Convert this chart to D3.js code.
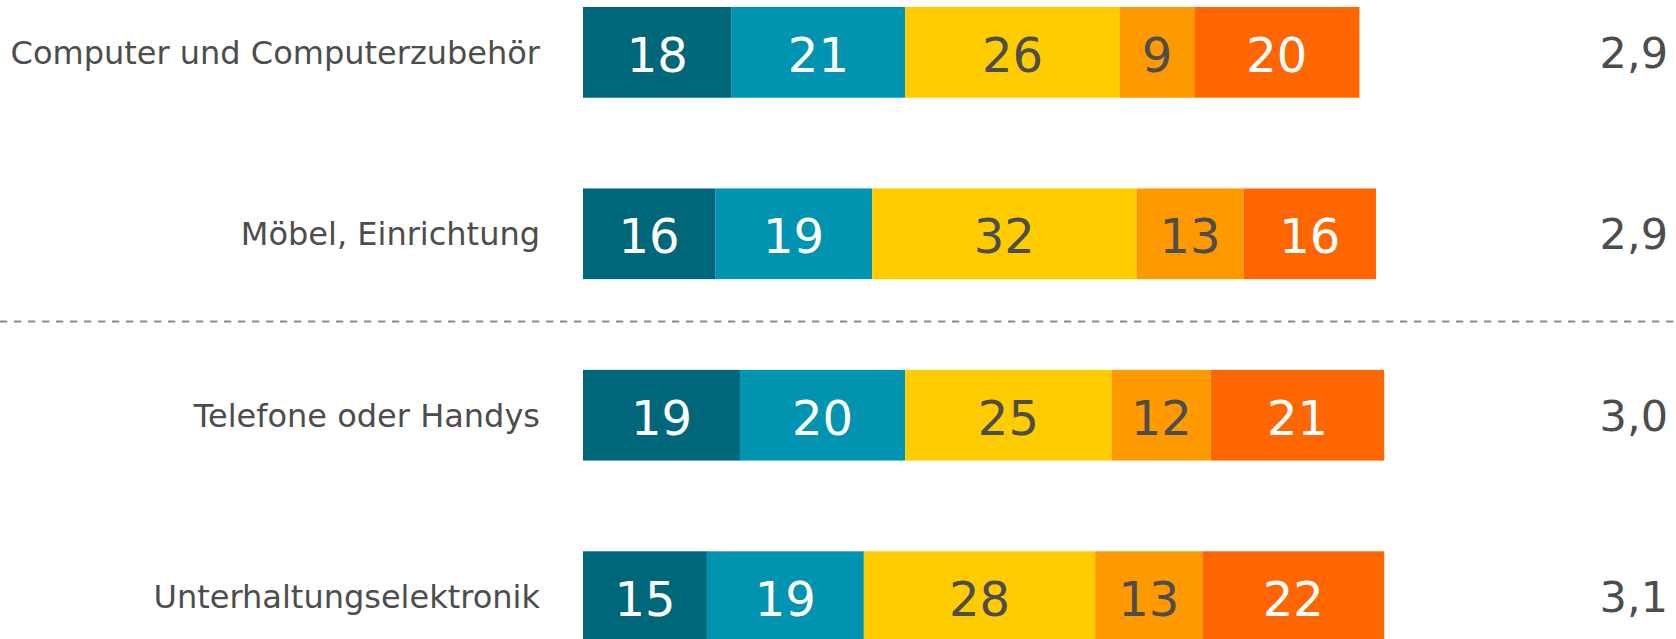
<!DOCTYPE html>
<html>
<head>
<meta charset="utf-8">
<script src="https://cdn.jsdelivr.net/npm/d3@7"></script>
<style>
  html, body { margin: 0; padding: 0; background: #ffffff; }
  svg { display: block; }
</style>
</head>
<body>
<script>
const categories = ["Computer und Computerzubehör", "Möbel, Einrichtung", "Telefone oder Handys", "Unterhaltungselektronik"];
const series1 = [18, 16, 19, 15];
const series2 = [21, 19, 20, 19];
const series3 = [26, 32, 25, 28];
const series4 = [9, 13, 12, 13];
const series5 = [20, 16, 21, 22];
const meanLabels = ["2,9", "2,9", "3,0", "3,1"];

const seriesList = [series1, series2, series3, series4, series5];
const colors = ["#00677a", "#0094b1", "#ffcc00", "#ff9900", "#ff6600"];
const textColors = ["#ffffff", "#ffffff", "#4d4d4d", "#4d4d4d", "#ffffff"];

const W = 1676, H = 639;
const svg = d3.select("body").append("svg").attr("width", W).attr("height", H);

const x = d3.scaleLinear().domain([0, 100]).range([583, 1409]);
const y = d3.scaleBand().domain(categories).range([7, 642]).paddingInner(0.5).paddingOuter(0);

const rows = categories.map((c, i) => {
  let acc = 0;
  const segs = seriesList.map((s, k) => {
    const seg = { cat: c, k, x0: acc, x1: acc + s[i], v: s[i] };
    acc += s[i];
    return seg;
  });
  return { cat: c, segs, mean: meanLabels[i] };
});

const fontFamily = "'DejaVu Sans', Verdana, sans-serif";

// dashed separator between 2nd and 3rd row
const sepY = (y(categories[1]) + y.bandwidth() + y(categories[2])) / 2 - 3;
svg.append("line")
  .attr("x1", 0).attr("x2", W)
  .attr("y1", sepY).attr("y2", sepY)
  .attr("stroke", "#8c8c8c").attr("stroke-width", 2)
  .attr("stroke-dasharray", "7.3,6.7");

const g = svg.selectAll("g.row").data(rows).enter().append("g").attr("class", "row");

g.selectAll("rect").data(d => d.segs).enter().append("rect")
  .attr("x", d => x(d.x0))
  .attr("width", d => x(d.x1) - x(d.x0))
  .attr("y", d => y(d.cat))
  .attr("height", y.bandwidth())
  .attr("fill", d => colors[d.k]);

const segFont = 48;
g.selectAll("text.val").data(d => d.segs).enter().append("text")
  .attr("class", "val")
  .attr("x", d => (x(d.x0) + x(d.x1)) / 2)
  .attr("y", d => y(d.cat) + y.bandwidth() / 2 + 0.364 * segFont + 2)
  .attr("text-anchor", "middle")
  .attr("font-family", fontFamily)
  .attr("font-size", segFont)
  .attr("fill", d => textColors[d.k])
  .text(d => d.v);

const labFont = 32;
g.append("text")
  .attr("x", 540)
  .attr("y", d => y(d.cat) + y.bandwidth() / 2 + 0.364 * labFont)
  .attr("text-anchor", "end")
  .attr("font-family", fontFamily)
  .attr("font-size", labFont)
  .attr("fill", "#4d4d4d")
  .text(d => d.cat);

const meanFont = 43;
g.append("text")
  .attr("x", 1668)
  .attr("y", d => y(d.cat) + y.bandwidth() / 2 + 0.364 * meanFont)
  .attr("text-anchor", "end")
  .attr("font-family", fontFamily)
  .attr("font-size", meanFont)
  .attr("fill", "#4d4d4d")
  .text(d => d.mean);
</script>
</body>
</html>
